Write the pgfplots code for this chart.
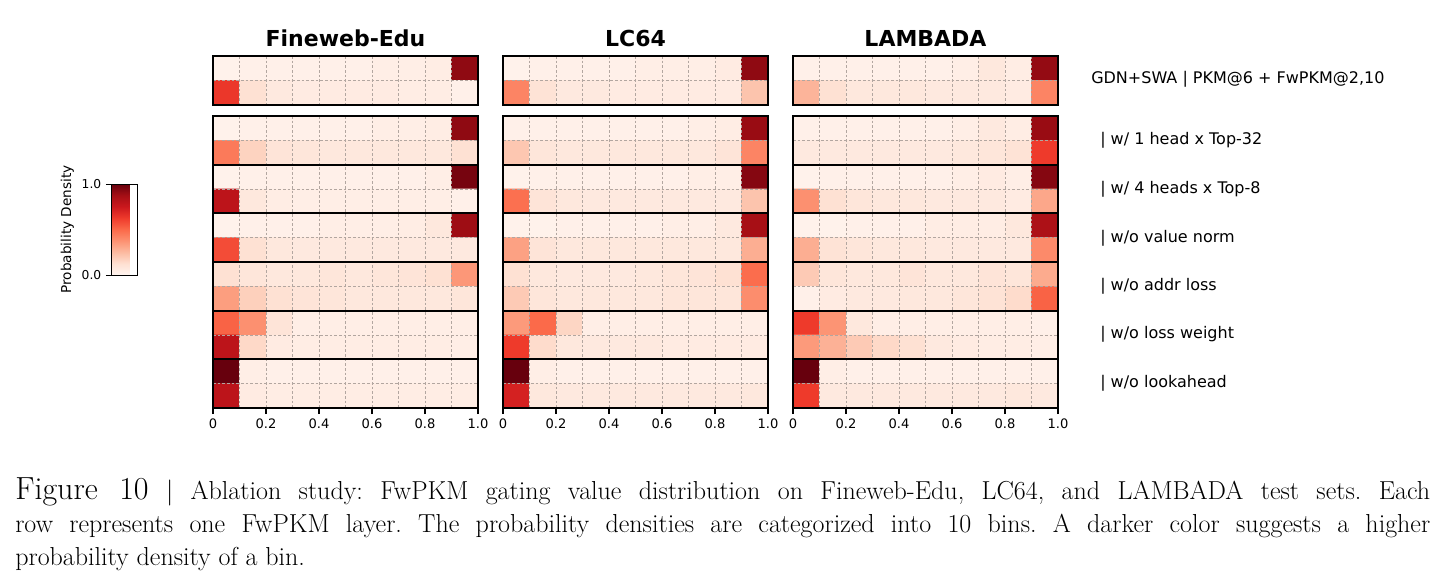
\documentclass[border=0pt]{standalone}
\usepackage{fontspec}
\setmainfont{DejaVu Sans}
\newfontfamily\capfont{Latin Modern Roman}
\usepackage{pgfplots}
\pgfplotsset{compat=1.18}
\definecolor{gridc}{RGB}{178,166,160}
\pgfplotsset{
  colormap={reds}{rgb255=(255,245,240) rgb255=(254,224,210) rgb255=(252,187,161) rgb255=(252,146,114) rgb255=(251,106,74) rgb255=(239,59,44) rgb255=(203,24,29) rgb255=(165,15,21) rgb255=(103,0,13)},
  hm/.style={
    scale only axis, width=198.75pt,
    xmin=0, xmax=1, y dir=reverse,
    axis on top, colormap name=reds,
    point meta min=0, point meta max=1,
    yticklabels={}, ymajorgrids, xmajorgrids,
    grid style={gridc, dash pattern=on 2pt off 1.5pt, line width=0.45pt},
    axis line style={line width=1.1pt},
    ytick style={draw=none},
    /pgf/number format/assume math mode=true,
    ticklabel style={font=\fontsize{9.8}{11}\selectfont},
  },
  hmtop/.style={hm, height=36.75pt, ymin=-0.5, ymax=1.5, ytick={0.5},
    xtick={0.1,0.2,0.3,0.4,0.5,0.6,0.7,0.8,0.9}, xticklabels={}, xtick style={draw=none},
    title style={font=\bfseries\fontsize{16.5}{19}\selectfont, at={(0.5,1)}, anchor=south, yshift=-2.5pt}},
  hmbot/.style={hm, height=219pt, ymin=-0.5, ymax=11.5,
    ytick={0.5,2.5,4.5,6.5,8.5,10.5},
    extra y ticks={1.5,3.5,5.5,7.5,9.5}, extra y tick labels={},
    extra y tick style={ymajorgrids=true, major grid style={solid, black, line width=1.5pt}},
    xtick={0,0.2,0.4,0.6,0.8,1}, xticklabels={0,0.2,0.4,0.6,0.8,1.0},
    minor xtick={0.1,0.3,0.5,0.7,0.9}, xminorgrids, minor tick length=0pt,
    xtick pos=bottom, tick align=outside, major tick length=4.5pt,
    xtick style={line width=0.8pt, black}},
  hmdata/.style={matrix plot*, mesh/cols=10, point meta=explicit},
}
\begin{document}
\frenchspacing
\begin{tikzpicture}
\useasboundingbox (0,0) rectangle (1082.25pt,-436.5pt);
% ---------------- Fineweb-Edu ----------------
\begin{axis}[hmtop, at={(159.75pt,-42pt)}, anchor=north west, title={Fineweb-Edu}]
\addplot[hmdata] table[row sep=\\, x expr={0.05+0.1*mod(\coordindex,10)}, y expr={floor((\coordindex+0.5)/10)}, meta=c] {c\\
0.02\\0.03\\0.03\\0.03\\0.03\\0.03\\0.04\\0.04\\0.05\\0.92\\
0.64\\0.12\\0.07\\0.06\\0.06\\0.06\\0.06\\0.05\\0.05\\0.03\\
};
\end{axis}
\begin{axis}[hmbot, at={(159.75pt,-87pt)}, anchor=north west,
  colorbar, colorbar shift/.style={},
  colorbar style={at={(parent axis.north west)}, anchor=north west,
    xshift=-76.5pt, yshift=-51pt,
    scale only axis, width=19.5pt, height=68.25pt,
    ytick={0,1}, yticklabels={0.0,1.0},
    ytick pos=left, yticklabel pos=left,
    tick align=outside, major tick length=3.8pt,
    ytick style={line width=0.6pt, black},
    ylabel={Probability Density},
    ylabel style={font=\fontsize{10.2}{11}\selectfont, yshift=-1pt},
    yticklabel style={font=\fontsize{9.2}{10}\selectfont},
    axis line style={line width=0.6pt}}]
\addplot[hmdata] table[row sep=\\, x expr={0.05+0.1*mod(\coordindex,10)}, y expr={floor((\coordindex+0.5)/10)}, meta=c] {c\\
0.02\\0.03\\0.03\\0.03\\0.03\\0.03\\0.04\\0.04\\0.05\\0.92\\
0.45\\0.17\\0.10\\0.09\\0.08\\0.08\\0.08\\0.08\\0.08\\0.12\\
0.02\\0.03\\0.03\\0.03\\0.03\\0.03\\0.03\\0.03\\0.04\\0.97\\
0.80\\0.08\\0.05\\0.04\\0.04\\0.04\\0.04\\0.04\\0.04\\0.03\\
0.02\\0.03\\0.03\\0.03\\0.04\\0.04\\0.04\\0.05\\0.08\\0.89\\
0.58\\0.12\\0.08\\0.07\\0.07\\0.07\\0.07\\0.07\\0.07\\0.07\\
0.12\\0.09\\0.08\\0.08\\0.09\\0.08\\0.09\\0.10\\0.12\\0.36\\
0.34\\0.18\\0.12\\0.10\\0.09\\0.08\\0.08\\0.08\\0.08\\0.09\\
0.52\\0.38\\0.10\\0.04\\0.04\\0.04\\0.04\\0.04\\0.04\\0.04\\
0.80\\0.15\\0.06\\0.05\\0.05\\0.05\\0.05\\0.05\\0.05\\0.04\\
1.00\\0.04\\0.03\\0.03\\0.03\\0.03\\0.03\\0.03\\0.03\\0.03\\
0.80\\0.06\\0.05\\0.05\\0.05\\0.05\\0.05\\0.05\\0.05\\0.05\\
};
\end{axis}
% ---------------- LC64 ----------------
\begin{axis}[hmtop, at={(377.25pt,-42pt)}, anchor=north west, title={LC64}]
\addplot[hmdata] table[row sep=\\, x expr={0.05+0.1*mod(\coordindex,10)}, y expr={floor((\coordindex+0.5)/10)}, meta=c] {c\\
0.02\\0.03\\0.03\\0.03\\0.03\\0.04\\0.04\\0.04\\0.06\\0.92\\
0.42\\0.11\\0.07\\0.07\\0.06\\0.06\\0.06\\0.06\\0.06\\0.22\\
};
\end{axis}
\begin{axis}[hmbot, at={(377.25pt,-87pt)}, anchor=north west]
\addplot[hmdata] table[row sep=\\, x expr={0.05+0.1*mod(\coordindex,10)}, y expr={floor((\coordindex+0.5)/10)}, meta=c] {c\\
0.03\\0.03\\0.03\\0.03\\0.03\\0.03\\0.03\\0.04\\0.05\\0.90\\
0.21\\0.09\\0.08\\0.08\\0.08\\0.08\\0.08\\0.08\\0.10\\0.42\\
0.02\\0.03\\0.03\\0.03\\0.03\\0.03\\0.03\\0.04\\0.04\\0.94\\
0.48\\0.10\\0.08\\0.07\\0.07\\0.07\\0.07\\0.07\\0.07\\0.22\\
0.02\\0.02\\0.03\\0.03\\0.03\\0.03\\0.04\\0.04\\0.07\\0.87\\
0.33\\0.10\\0.08\\0.08\\0.08\\0.08\\0.08\\0.08\\0.08\\0.29\\
0.12\\0.08\\0.07\\0.07\\0.07\\0.08\\0.09\\0.10\\0.12\\0.49\\
0.20\\0.09\\0.08\\0.08\\0.08\\0.08\\0.09\\0.09\\0.09\\0.39\\
0.35\\0.50\\0.16\\0.04\\0.04\\0.04\\0.04\\0.04\\0.04\\0.04\\
0.63\\0.14\\0.08\\0.07\\0.07\\0.07\\0.06\\0.06\\0.06\\0.06\\
1.00\\0.04\\0.03\\0.03\\0.03\\0.03\\0.03\\0.03\\0.03\\0.03\\
0.72\\0.08\\0.07\\0.07\\0.07\\0.07\\0.07\\0.07\\0.07\\0.08\\
};
\end{axis}
% ---------------- LAMBADA ----------------
\begin{axis}[hmtop, at={(594.75pt,-42pt)}, anchor=north west, title={LAMBADA}]
\addplot[hmdata] table[row sep=\\, x expr={0.05+0.1*mod(\coordindex,10)}, y expr={floor((\coordindex+0.5)/10)}, meta=c] {c\\
0.03\\0.03\\0.03\\0.03\\0.03\\0.03\\0.04\\0.08\\0.05\\0.91\\
0.27\\0.12\\0.08\\0.08\\0.08\\0.07\\0.07\\0.07\\0.06\\0.42\\
};
\end{axis}
\begin{axis}[hmbot, at={(594.75pt,-87pt)}, anchor=north west]
\addplot[hmdata] table[row sep=\\, x expr={0.05+0.1*mod(\coordindex,10)}, y expr={floor((\coordindex+0.5)/10)}, meta=c] {c\\
0.03\\0.03\\0.03\\0.03\\0.03\\0.03\\0.04\\0.07\\0.05\\0.90\\
0.07\\0.07\\0.07\\0.07\\0.07\\0.07\\0.08\\0.09\\0.11\\0.63\\
0.02\\0.03\\0.03\\0.03\\0.03\\0.03\\0.04\\0.06\\0.04\\0.94\\
0.38\\0.12\\0.09\\0.08\\0.08\\0.07\\0.07\\0.07\\0.06\\0.31\\
0.02\\0.02\\0.03\\0.03\\0.03\\0.05\\0.05\\0.05\\0.08\\0.85\\
0.29\\0.11\\0.09\\0.08\\0.08\\0.07\\0.07\\0.07\\0.07\\0.40\\
0.20\\0.09\\0.08\\0.08\\0.10\\0.08\\0.08\\0.10\\0.09\\0.30\\
0.03\\0.06\\0.07\\0.07\\0.08\\0.08\\0.09\\0.11\\0.14\\0.52\\
0.63\\0.37\\0.08\\0.04\\0.04\\0.04\\0.04\\0.04\\0.04\\0.03\\
0.35\\0.28\\0.20\\0.15\\0.12\\0.07\\0.06\\0.05\\0.05\\0.04\\
1.00\\0.04\\0.03\\0.03\\0.03\\0.03\\0.03\\0.03\\0.03\\0.03\\
0.63\\0.07\\0.07\\0.07\\0.07\\0.07\\0.07\\0.07\\0.08\\0.07\\
};
\end{axis}
% ---------------- row labels ----------------
\begin{scope}[every node/.style={anchor=west, font=\fontsize{12}{14}\selectfont, inner sep=0pt}]
\node at (818.25pt,-59.25pt) {GDN+SWA | PKM@6 + FwPKM@2,10};
\node at (825pt,-105pt) {| w/ 1 head x Top-32};
\node at (825pt,-141.75pt) {| w/ 4 heads x Top-8};
\node at (825pt,-178.5pt) {| w/o value norm};
\node at (825pt,-214.5pt) {| w/o addr loss};
\node at (825pt,-250.5pt) {| w/o loss weight};
\node at (825pt,-287.25pt) {| w/o lookahead};
\end{scope}
% ---------------- caption ----------------
\node[anchor=north west, inner sep=0pt, text width=1061.25pt, align=justify,
  font=\capfont\fontsize{19.5}{24.75}\selectfont] at (11.25pt,-358pt)
  {\frenchspacing{\fontsize{24}{24.75}\selectfont Figure 10} | Ablation study: FwPKM gating value distribution on Fineweb-Edu, LC64, and LAMBADA test sets. Each\linebreak
  row represents one FwPKM layer. The probability densities are categorized into 10 bins. A darker color suggests a higher\linebreak
  probability density of a bin.};
\end{tikzpicture}
\end{document}
